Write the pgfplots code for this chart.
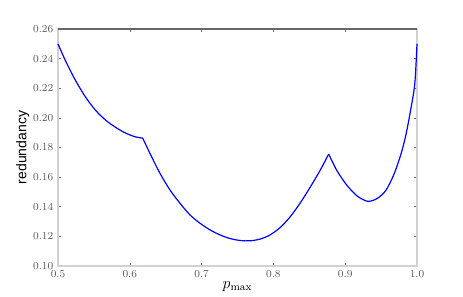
\documentclass[border=0pt]{standalone}
\usepackage{fontspec}
\setsansfont{Liberation Sans}
\usepackage{pgfplots}
\pgfplotsset{compat=1.18}

\definecolor{spine}{gray}{0.82}
\definecolor{topspine}{gray}{0.40}
\definecolor{ticklab}{gray}{0.35}

\begin{document}
\begin{tikzpicture}
\begin{axis}[
    scale only axis,
    width=269.25pt, height=177.75pt,
    at={(0,0)}, anchor=south west,
    xmin=0.5, xmax=1.0,
    ymin=0.10, ymax=0.26,
    xtick={0.5,0.6,...,1.0},
    ytick={0.10,0.12,...,0.26},
    xticklabel style={/pgf/number format/.cd, fixed, fixed zerofill, precision=1},
    yticklabel style={/pgf/number format/.cd, fixed, fixed zerofill, precision=2},
    tick label style={font=\fontsize{8.5}{10}\selectfont, text=ticklab},
    tick align=inside,
    major tick length=2.5pt,
    tick style={topspine, line width=0.4pt},
    axis line style={spine, line width=1.5pt},
    ylabel={\sffamily redundancy},
    ylabel style={font=\fontsize{10.5}{12}\selectfont, yshift=-4pt},
    xlabel={$p_{\max}$},
    xlabel style={font=\fontsize{12}{14}\selectfont, yshift=4pt},
    clip=false,
]
\addplot[blue, line width=0.9pt, smooth, tension=0.5] coordinates {
(0.500,0.2500) (0.510,0.2390) (0.524,0.2256) (0.538,0.2143) (0.552,0.2053)
(0.566,0.1986) (0.579,0.1940) (0.593,0.1900) (0.607,0.1873) (0.618,0.1863)
};
\addplot[blue, line width=0.9pt, smooth, tension=0.5] coordinates {
(0.618,0.1863) (0.628,0.1761) (0.642,0.1626) (0.656,0.1513) (0.670,0.1423)
(0.684,0.1344) (0.698,0.1288) (0.712,0.1243) (0.726,0.1209) (0.740,0.1185)
(0.754,0.1172) (0.767,0.1170) (0.781,0.1181) (0.795,0.1209) (0.809,0.1258)
(0.823,0.1330) (0.837,0.1423) (0.851,0.1530) (0.865,0.1645) (0.877,0.1756)
};
\addplot[blue, line width=0.9pt, smooth, tension=0.5] coordinates {
(0.877,0.1756) (0.888,0.1648) (0.902,0.1547) (0.916,0.1475) (0.925,0.1448)
(0.933,0.1436) (0.945,0.1457) (0.957,0.1513) (0.9685,0.1626) (0.978,0.1761)
(0.985,0.1896) (0.992,0.2076) (0.997,0.2234) (1.000,0.2500)
};
\draw[topspine, line width=0.8pt] (rel axis cs:0,1) -- (rel axis cs:1,1);
\end{axis}
\path[use as bounding box] (-43.5pt,-22.5pt) rectangle (303.75pt,199.5pt);
\end{tikzpicture}
\end{document}
